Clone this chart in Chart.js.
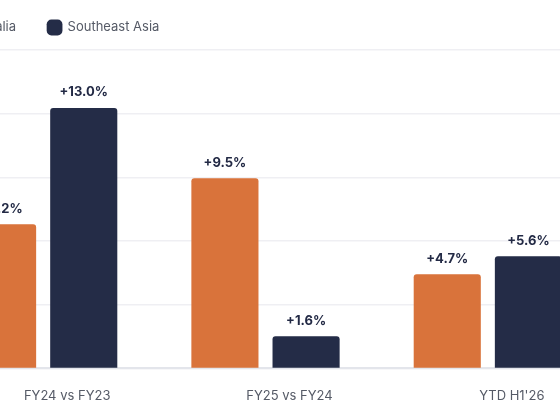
<!DOCTYPE html>
<html>
<head>
<meta charset="utf-8">
<script src="https://cdn.jsdelivr.net/npm/chart.js@4.4.0/dist/chart.umd.min.js"></script>
<style>
  html, body { margin: 0; padding: 0; overflow: hidden; background: #fff; width: 560px; height: 420px; }
  #wrap { position: absolute; left: -89px; top: -11px; width: 693px; height: 431px; }
</style>
</head>
<body>
<div id="wrap"><canvas id="growthChart"></canvas></div>
<script>
const categories = ["FY24 vs FY23", "FY25 vs FY24", "YTD H1'26"];
const australia = [7.2, 9.5, 4.7];
const southeastAsia = [13.0, 1.6, 5.6];

const valueLabels = {
  id: "valueLabels",
  afterDatasetsDraw(chart) {
    const ctx = chart.ctx;
    ctx.save();
    ctx.font = "bold 13px Inter";
    ctx.fillStyle = "#232a45";
    ctx.textAlign = "center";
    ctx.textBaseline = "bottom";
    chart.data.datasets.forEach((ds, i) => {
      chart.getDatasetMeta(i).data.forEach((bar, j) => {
        ctx.fillText("+" + ds.data[j].toFixed(1) + "%", bar.x, bar.y - 9);
      });
    });
    ctx.restore();
  }
};

const legendHeight = {
  id: "legendHeight",
  afterInit(chart) {
    const fit = chart.legend.fit;
    chart.legend.fit = function () {
      fit.call(this);
      this.height = 61;
    };
  }
};

new Chart(document.getElementById("growthChart"), {
  type: "bar",
  data: {
    labels: categories,
    datasets: [
      {
        label: "Australia",
        data: australia,
        backgroundColor: "#d9733b",
        borderRadius: 3,
        categoryPercentage: 0.73,
        barPercentage: 0.827
      },
      {
        label: "Southeast Asia",
        data: southeastAsia,
        backgroundColor: "#242c47",
        borderRadius: 3,
        categoryPercentage: 0.73,
        barPercentage: 0.827
      }
    ]
  },
  options: {
    responsive: true,
    maintainAspectRatio: false,
    animation: false,
    layout: { padding: { left: 0, right: 5, top: 0, bottom: 4 } },
    plugins: {
      legend: {
        align: "start",
        labels: {
          boxWidth: 14,
          boxHeight: 14,
          usePointStyle: true,
          pointStyle: "rectRounded",
          padding: 32,
          color: "#555a66",
          font: { family: "Inter", size: 13 }
        }
      },
      tooltip: { enabled: false }
    },
    scales: {
      x: {
        grid: { display: false },
        border: { color: "#e3e5eb", width: 2 },
        ticks: {
          color: "#555a66",
          padding: 12,
          labelOffset: 24,
          font: { family: "Inter", size: 13 }
        }
      },
      y: {
        min: 0,
        max: 15.9,
        afterFit(scale) { scale.width = 21; },
        border: { display: false },
        grid: { color: "#efeff3", lineWidth: 1.5, drawTicks: false },
        ticks: { display: false, stepSize: 3.18 }
      }
    }
  },
  plugins: [valueLabels, legendHeight]
});
</script>
</body>
</html>
